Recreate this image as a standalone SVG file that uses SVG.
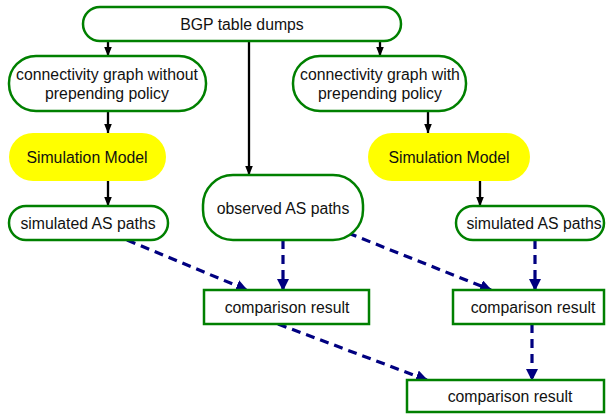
<svg xmlns="http://www.w3.org/2000/svg" width="606" height="414" viewBox="0 0 606 414">
<defs>
<marker id="ab" markerWidth="10" markerHeight="8" refX="9.5" refY="4" orient="auto" markerUnits="userSpaceOnUse"><path d="M0,0 L10,4 L0,8 Z" fill="#000"/></marker>
<marker id="ad" markerWidth="12" markerHeight="12" refX="11" refY="6" orient="auto" markerUnits="userSpaceOnUse"><path d="M0,0 L12,6 L0,12 Z" fill="#000080"/></marker>
</defs>
<style>
.n{fill:#fff;stroke:#008000;stroke-width:2.5}
.y{fill:#ffff00;stroke:none}
.t{font-family:"Liberation Sans",Arial,sans-serif;font-size:15.8px;fill:#111;text-anchor:middle}
.b{stroke:#000;stroke-width:2.3;fill:none;marker-end:url(#ab)}
.d{stroke:#000080;stroke-width:3.2;fill:none;stroke-dasharray:9,6;marker-end:url(#ad)}
</style>
<g id="connectors">
<line class="b" x1="108" y1="41" x2="108" y2="56"/>
<line class="b" x1="380" y1="41" x2="380" y2="56"/>
<line class="b" x1="249" y1="41" x2="249" y2="175"/>
<line class="b" x1="108" y1="111" x2="108" y2="133"/>
<line class="b" x1="428" y1="111" x2="428" y2="133"/>
<line class="b" x1="108" y1="181" x2="108" y2="206"/>
<line class="b" x1="480" y1="181" x2="480" y2="206"/>
<line class="d" x1="127" y1="240" x2="247" y2="290"/>
<line class="d" x1="283" y1="240" x2="283" y2="290"/>
<line class="d" x1="348" y1="233" x2="491" y2="290"/>
<line class="d" x1="535" y1="240" x2="535" y2="290"/>
<line class="d" x1="278" y1="324" x2="427" y2="380"/>
<line class="d" x1="532" y1="324" x2="532" y2="380"/>
</g>
<g id="bgp"><rect class="n" x="83" y="7" width="318" height="34" rx="17"/><text class="t" x="242" y="29.5">BGP table dumps</text></g>
<g id="conn-left"><rect class="n" x="9" y="56" width="197" height="55" rx="27"/><text class="t" x="107" y="79.5">connectivity graph without</text><text class="t" x="107" y="98.5">prepending policy</text></g>
<g id="conn-right"><rect class="n" x="293" y="56" width="173" height="55" rx="27"/><text class="t" x="380" y="79.5">connectivity graph with</text><text class="t" x="380" y="98.5">prepending policy</text></g>
<g id="sim-left"><rect class="y" x="9" y="133" width="157" height="48" rx="24"/><text class="t" x="87" y="162.5">Simulation Model</text></g>
<g id="sim-right"><rect class="y" x="368" y="133" width="162" height="48" rx="24"/><text class="t" x="449" y="162.5">Simulation Model</text></g>
<g id="simpaths-left"><rect class="n" x="9" y="206" width="159" height="34" rx="17"/><text class="t" x="88" y="228.5">simulated AS paths</text></g>
<g id="observed"><rect class="n" x="203" y="175" width="160" height="65" rx="30"/><text class="t" x="283" y="213.5">observed AS paths</text></g>
<g id="simpaths-right"><rect class="n" x="456" y="206" width="148" height="34" rx="17"/><text class="t" x="534" y="228.5">simulated AS paths</text></g>
<g id="comp1"><rect class="n" x="204" y="290" width="165" height="34"/><text class="t" x="287" y="312.5">comparison result</text></g>
<g id="comp2"><rect class="n" x="453" y="290" width="151" height="34"/><text class="t" x="533" y="312.5">comparison result</text></g>
<g id="comp3"><rect class="n" x="407" y="380" width="197" height="32"/><text class="t" x="510" y="402">comparison result</text></g>
</svg>
